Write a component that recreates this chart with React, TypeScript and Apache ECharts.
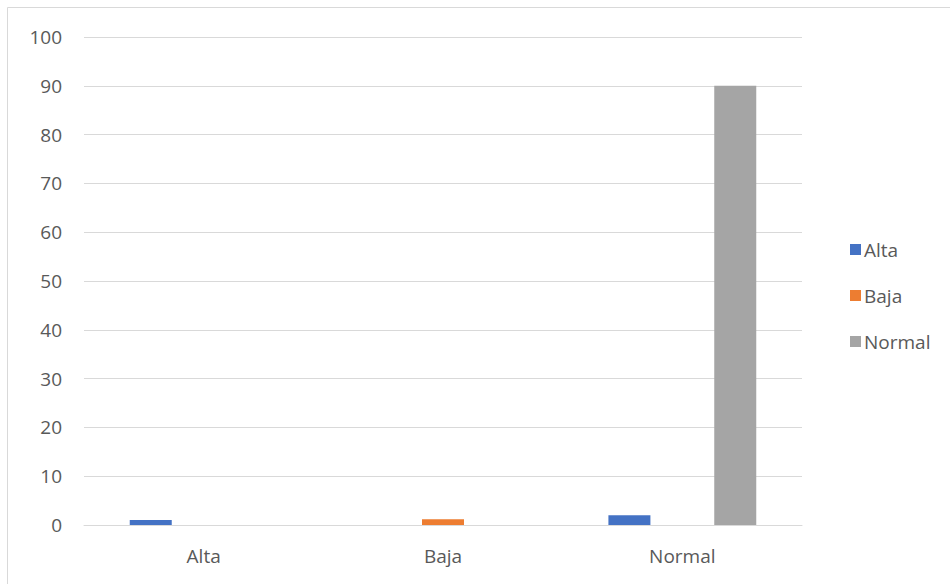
import React, { useEffect, useRef } from "react";
import * as echarts from "echarts";

const categories = ["Alta", "Baja", "Normal"];
const seriesNames = ["Alta", "Baja", "Normal"];
const altaValues = [1, 0, 2];
const bajaValues = [0, 1.2, 0];
const normalValues = [0, 0, 90];
const colors = ["#4472C4", "#ED7D31", "#A5A5A5"];

export default function App() {
  const ref = useRef<HTMLDivElement>(null);
  useEffect(() => {
    if (!ref.current) return;
    const chart = echarts.init(ref.current, null, { renderer: "svg" });
    const font = "'Open Sans', 'Liberation Sans', sans-serif";
    const data = [altaValues, bajaValues, normalValues];
    chart.setOption({
      animation: false,
      backgroundColor: "#ffffff",
      textStyle: { fontFamily: font },
      graphic: [
        {
          type: "rect",
          shape: { x: 7.5, y: 7.5, width: 1000, height: 1000 },
          style: { fill: "none", stroke: "#D9D9D9", lineWidth: 1 },
          silent: true,
        },
      ],
      grid: { left: 84, right: 148, top: 37, bottom: 59, containLabel: false },
      legend: {
        orient: "vertical",
        left: 845,
        top: 235,
        itemWidth: 11,
        itemHeight: 11,
        itemGap: 27,
        icon: "rect",
        data: seriesNames,
        textStyle: { color: "#595959", fontSize: 19, fontFamily: font, padding: [0, 0, 0, -2] },
      },
      xAxis: {
        type: "category",
        data: categories,
        axisLine: { lineStyle: { color: "#D9D9D9", width: 1 } },
        axisTick: { show: false },
        axisLabel: { color: "#595959", fontSize: 19, margin: 21, fontFamily: font },
      },
      yAxis: {
        type: "value",
        min: 0,
        max: 100,
        interval: 10,
        axisLine: { show: false },
        axisTick: { show: false },
        splitLine: { lineStyle: { color: "#D9D9D9", width: 1 } },
        axisLabel: { color: "#595959", fontSize: 19, margin: 22, fontFamily: font },
      },
      series: seriesNames.map((name, i) => ({
        name,
        type: "bar",
        data: data[i],
        barWidth: 42,
        barGap: "26%",
        itemStyle: { color: colors[i] },
      })),
    });
    return () => chart.dispose();
  }, []);
  return (
    <div
      ref={ref}
      style={{ position: "fixed", left: 0, top: 0, width: 950, height: 584 }}
    />
  );
}
